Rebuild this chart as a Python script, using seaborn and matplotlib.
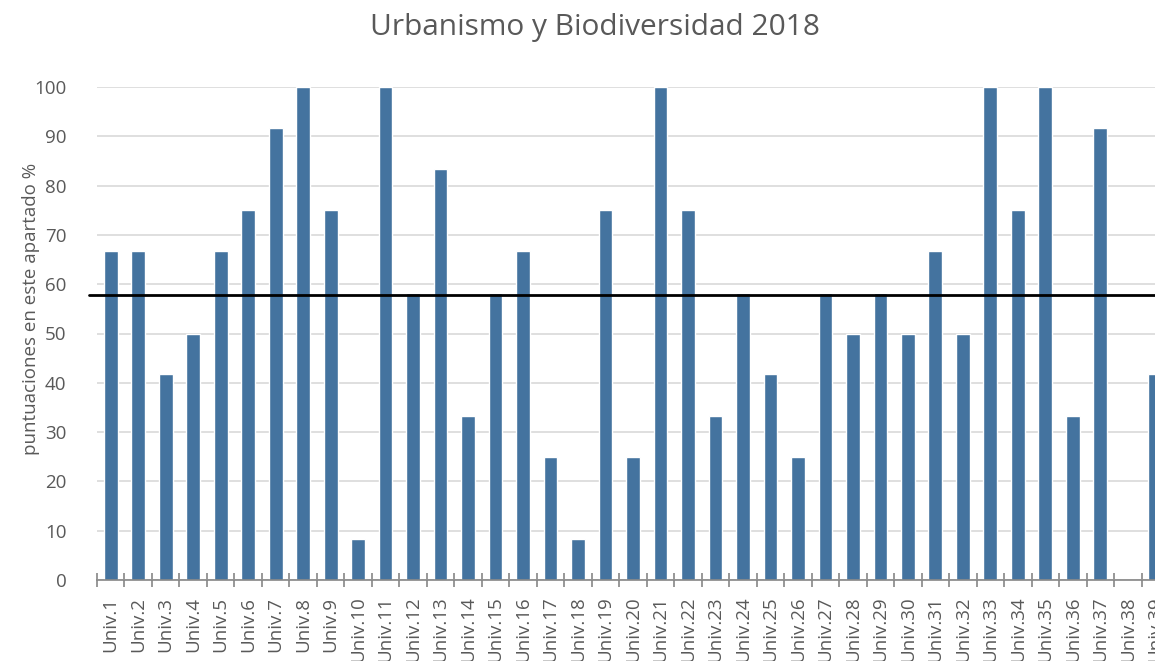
import numpy as np
import pandas as pd
import matplotlib
matplotlib.use("Agg")
import matplotlib.pyplot as plt
import seaborn as sns

# scores per university (%)
univs = [f"Univ.{i}" for i in range(1, 40)]
scores = [66.7, 66.7, 41.7, 50, 66.7, 75, 91.7, 100, 75, 8.3,
          100, 58.3, 83.3, 33.3, 58.3, 66.7, 25, 8.3, 75, 25,
          100, 75, 33.3, 58.3, 41.7, 25, 58.3, 50, 58.3, 50,
          66.7, 50, 100, 75, 100, 33.3, 91.7, 0, 41.7]
ref_line = 57.9  # black horizontal line (average)

df = pd.DataFrame({"univ": univs, "score": scores})

sns.set_style("white")
plt.rcParams['font.family'] = ['Open Sans', 'DejaVu Sans']

W, H = 1155, 661
fig = plt.figure(figsize=(W / 100, H / 100), dpi=100)
# plot area runs past the right edge, as in the original (clipped)
ax = fig.add_axes([97 / W, (H - 580) / H, (1169 - 97) / W, (580 - 87) / H])

sns.barplot(data=df, x="univ", y="score", color="#44739f", saturation=1,
            width=0.5, ax=ax, zorder=3)

ax.set_ylim(0, 100)
ax.set_xlim(-0.5, len(univs) - 0.5)
ax.set_yticks(np.arange(0, 101, 10))
ax.yaxis.grid(True, color="#d9d9d9", linewidth=1.2, zorder=0)
ax.set_axisbelow(True)

for s in ["top", "right", "left"]:
    ax.spines[s].set_visible(False)
ax.spines["bottom"].set_color("#868686")
ax.spines["bottom"].set_linewidth(1.2)
ax.spines["bottom"].set_zorder(4)

ax.set_xticks(np.arange(-0.5, len(univs), 1), minor=True)
ax.tick_params(axis="x", which="major", bottom=True, length=0, pad=12,
               labelsize=13.5, labelcolor="#595959", rotation=90)
ax.tick_params(axis="x", which="minor", bottom=True, length=10,
               direction="inout", color="#868686", width=1.2)
ax.tick_params(axis="y", length=0, pad=22, labelsize=13.5, labelcolor="#595959")

ax.axhline(ref_line, xmin=-0.007, xmax=1, color="black", lw=2, zorder=5,
           clip_on=False)

ax.set_xlabel("")
ax.set_ylabel("puntuaciones en este apartado %", fontsize=13.5, color="#595959")
ax.yaxis.set_label_coords(-57 / 1072, 0.55)

fig.text(595 / W, 1 - 28 / H, "Urbanismo y Biodiversidad 2018", ha="center",
         va="center", fontsize=21.5, color="#595959")

fig.savefig("out.png", dpi=100)
